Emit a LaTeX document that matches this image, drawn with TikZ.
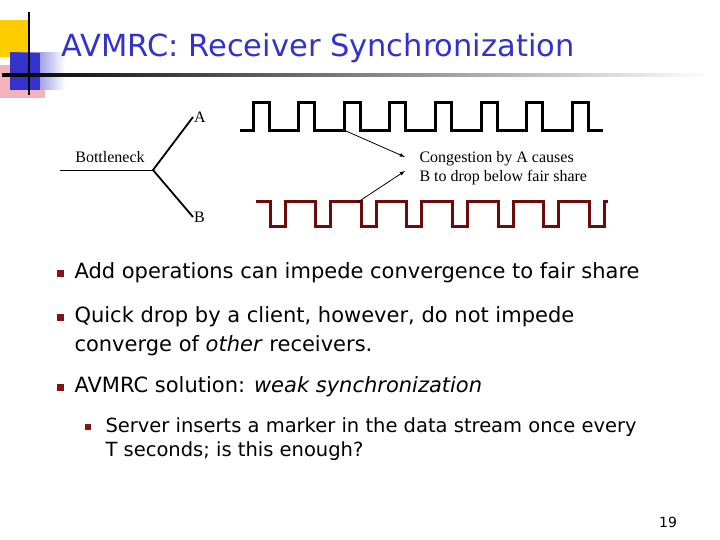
\documentclass[tikz,border=0pt]{standalone}
\usepackage{fontspec}
\setmainfont{DejaVu Sans}
\newfontfamily\figfont{Liberation Serif}
\definecolor{titleblue}{RGB}{51,51,204}
\definecolor{waveB}{RGB}{110,10,10}
\definecolor{bulletred}{RGB}{130,20,20}
\definecolor{logoyellow}{RGB}{255,204,0}
\definecolor{logoblue}{RGB}{51,51,204}
\definecolor{logopink}{RGB}{240,160,170}
\tikzset{
  wave/.style={line width=3pt, line join=miter},
  fig/.style={font=\figfont\fontsize{16}{19}\selectfont},
  item/.style={anchor=west, align=left, font=\fontsize{21}{29}\selectfont},
  subitem/.style={anchor=west, align=left, font=\fontsize{19.5}{24}\selectfont},
  bul/.style={fill=bulletred, minimum size=7pt, inner sep=0pt}
}
\begin{document}
\begin{tikzpicture}[x=1pt,y=-1pt]
				\useasboundingbox (0,0) rectangle (720,540);
				% logo
				\fill[logoyellow] (0,20) rectangle (28,57);
				\fill[logopink, opacity=0.8] (0,65) rectangle (45,98);
				\shade[left color=logoblue, right color=white] (10,53) rectangle (65,90);
				\fill[logoblue] (10,53) rectangle (40,90);
				\draw[line width=2pt] (29,12) -- (29,95);
				\shade[left color=black, right color=white] (2,74) rectangle (710,77);
				\node[anchor=west, text=titleblue, font=\fontsize{30.5}{34}\selectfont] (title) at (58,48) {AVMRC: Receiver Synchronization};
				% tree
				\coordinate (bn) at (60,170);
				\coordinate (fork) at (153,170);
				\coordinate (tipA) at (193,117);
				\coordinate (tipB) at (193,217);
				\draw[thick] (bn) -- (fork);
				\draw[line width=1.8pt] (tipA) -- (fork) -- (tipB);
				\node[fig, anchor=west, inner sep=1pt] (labA) at (tipA) {A};
				\node[fig, anchor=west, inner sep=1pt] (labB) at (tipB) {B};
				\node[fig] (bneck) at (110,157) {Bottleneck};
				% waveform A
				\draw[wave] (240,131)
					\foreach \x in {253,298.6,...,580} { -- (\x,131) -- (\x,103) -- (\x+16,103) -- (\x+16,131) } -- (603,131);
				% waveform B
				\draw[wave, waveB] (256,202)
					\foreach \x in {270,315.6,...,600} { -- (\x,202) -- (\x,227) -- (\x+15,227) -- (\x+15,202) } -- (608,202);
				% congestion note
				\node[fig, anchor=west, align=left] (note) at (416,168) {Congestion by A causes\\B to drop below fair share};
				\coordinate (onA) at (346,131);
				\coordinate (onB) at (358,202);
				\draw[-latex, thick] (onA) -- (405,157);
				\draw[-latex, thick] (onB) -- (405,171);
				% bullets
				\foreach \y in {273,317,387}
					\node[bul] at (60,\y) {};
				\node[item] (b1) at (71,273) {Add operations can impede convergence to fair share};
				\node[item] (b2) at (71,331) {Quick drop by a client, however, do not impede\\converge of \textit{other} receivers.};
				\node[item] (b3) at (71,387) {AVMRC solution: \textit{weak synchronization}};
				\node[bul, minimum size=6pt] at (88,427) {};
				\node[subitem] (s1) at (102,439) {Server inserts a marker in the data stream once every\\T seconds; is this enough?};
				\node[font=\fontsize{14}{15}\selectfont] (page) at (668,522) {19};
			\end{tikzpicture}
\end{document}
